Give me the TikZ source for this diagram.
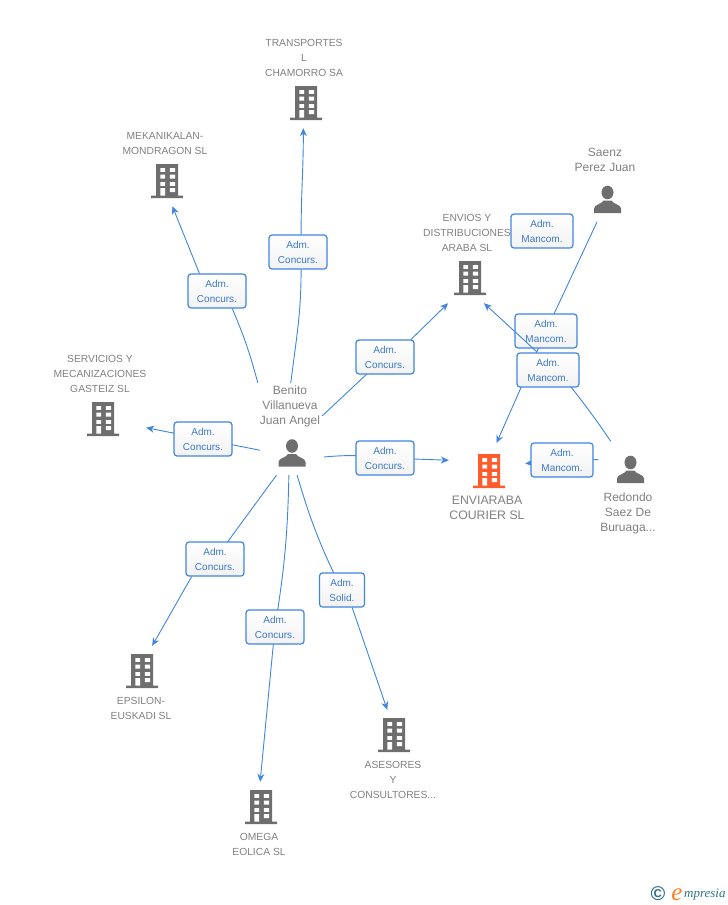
\documentclass[tikz,border=0pt]{standalone}
\usepackage{fontspec}
\setmainfont{Liberation Sans}
\newfontfamily\logofont{Liberation Serif}
\usetikzlibrary{arrows.meta,backgrounds}
\definecolor{linkblue}{HTML}{4085E0}
\definecolor{labgray}{HTML}{808080}
\definecolor{icongray}{HTML}{6E6E6E}
\definecolor{iconorange}{HTML}{FF5C2E}
\definecolor{logoteal}{HTML}{2F7488}
\definecolor{logoorange}{HTML}{F58220}
\tikzset{
  link/.style={draw=linkblue, line width=0.9pt},
  linkto/.style={link, -{Stealth[length=8pt,width=7pt]}},
  admbox/.style={draw=linkblue, line width=1.2pt, rounded corners=3pt, top color=white, bottom color=white!95!black,
    minimum width=58pt, minimum height=34pt, inner sep=0pt, align=center, text=linkblue!90!black,
    font=\fontsize{10}{15}\selectfont},
  mancbox/.style={admbox, minimum width=62pt},
  company/.style={text=labgray, align=center, inner sep=0pt, font=\fontsize{10.3}{15}\selectfont},
  personname/.style={text=labgray, align=center, inner sep=0pt, font=\fontsize{12}{15}\selectfont},
  bldcolor/.store in=\bldcolor, bldcolor=icongray,
  building/.style={minimum width=80pt, minimum height=50pt, inner sep=0pt, path picture={
    \fill[\bldcolor] (-11,-17) rectangle (11,14.5) (-16,14.5) rectangle (16,17);
    \foreach \wy in {-13,-6.3,1} {
      \fill[white] (-6.7,\wy) rectangle ++(4.7,3.8) (2.9,\wy) rectangle ++(5.1,3.8);
    }
    \fill[white] (-6.7,7) rectangle (-2,14.5) (2.9,7) rectangle (8,11);
  }},
  person/.style={minimum width=64pt, minimum height=44pt, inner sep=0pt, path picture={
    \fill[icongray] (0,-7) ellipse (6 and 6.8);
    \fill[icongray] (-13.5,13.5) -- (-13.5,9) .. controls (-13.5,5) and (-6,5) .. (-4,1) -- (4,1)
      .. controls (6,5) and (13.5,5) .. (13.5,9) -- (13.5,13.5) -- cycle;
  }}
}
\begin{document}
\begin{tikzpicture}[x=1pt, y=-1pt]
  \useasboundingbox (0, 0) rectangle (728, 905);

  \node[building] (transportes) at (306, 103) {};
  \node[building] (mekanikalan) at (167, 181) {};
  \node[building] (servicios) at (103, 419) {};
  \node[building] (envios) at (470, 278) {};
  \node[building, bldcolor=iconorange] (enviaraba) at (489, 471) {};
  \node[building] (epsilon) at (142, 671) {};
  \node[building] (omega) at (261, 807) {};
  \node[building] (asesores) at (394, 735) {};
  \node[person] (benito) at (292, 453) {};
  \node[person] (saenz) at (607.5, 199.5) {};
  \node[person, minimum height=56pt] (redondo) at (630.5, 469.5) {};

  \node[company] (transportesname) at (304, 58) {TRANSPORTES\\L\\CHAMORRO SA};
  \node[company] (mekanikalanname) at (165, 144) {MEKANIKALAN-\\MONDRAGON SL};
  \node[company] (serviciosname) at (100, 374) {SERVICIOS Y\\MECANIZACIONES\\GASTEIZ SL};
  \node[company] (enviosname) at (467, 233) {ENVIOS Y\\DISTRIBUCIONES\\ARABA SL};
  \node[company, font=\fontsize{12.3}{15}\selectfont] (enviarabaname) at (487, 508) {ENVIARABA\\COURIER SL};
  \node[company] (epsilonname) at (141, 708) {EPSILON-\\EUSKADI SL};
  \node[company] (omeganame) at (259, 844) {OMEGA\\EOLICA SL};
  \node[company] (asesoresname) at (393, 780) {ASESORES\\Y\\CONSULTORES...};
  \node[personname, minimum width=64pt, minimum height=46pt] (benitoname) at (290, 406) {Benito\\Villanueva\\Juan Angel};
  \node[personname] (saenzname) at (605, 160) {Saenz\\Perez Juan};
  \node[personname] (redondoname) at (628, 513) {Redondo\\Saez De\\Buruaga...};

  \node[admbox] (admtransportes) at (298, 252) {Adm.\\Concurs.};
  \node[admbox] (admmekanikalan) at (217, 291) {Adm.\\Concurs.};
  \node[admbox] (admservicios) at (203, 439) {Adm.\\Concurs.};
  \node[admbox] (admenvios) at (385, 357) {Adm.\\Concurs.};
  \node[admbox] (admenviaraba) at (385, 458) {Adm.\\Concurs.};
  \node[admbox] (admepsilon) at (215, 559) {Adm.\\Concurs.};
  \node[admbox] (admomega) at (275, 627) {Adm.\\Concurs.};
  \node[admbox, minimum width=45pt] (admasesores) at (342, 590) {Adm.\\Solid.};
  \node[mancbox] (manfree) at (542, 231) {Adm.\\Mancom.};
  \node[mancbox] (mansaenz) at (546, 331) {Adm.\\Mancom.};
  \node[mancbox] (manredondo) at (562, 460) {Adm.\\Mancom.};

  \begin{scope}[on background layer]
    \draw[link] (benitoname.88) to[out=83, in=-90] (admtransportes.-80);
    \draw[linkto] (admtransportes.80) to[out=90, in=-90] (transportes.-96);
    \draw[link] (benitoname.north west) to[bend right=4] (admmekanikalan.-49);
    \draw[linkto] (admmekanikalan.135) -- (mekanikalan.-78);
    \draw[link] (benito.175) -- (admservicios.center);
    \draw[linkto, shorten >=3pt] (admservicios.center) -- (servicios);
    \draw[link] (benitoname.-17) -- (admenvios.center);
    \draw[linkto] (admenvios.34) -- (envios.-131);
    \draw[link] (benito.-7) to[bend left=6] (admenviaraba.center);
    \draw[linkto] (admenviaraba.center) -- (enviaraba.165);
    \draw[link] (benito.-125) -- (admepsilon.center);
    \draw[linkto] (admepsilon.-143) -- (epsilon.68);
    \draw[link] (benito.-98) to[bend left=4] (admomega.center);
    \draw[linkto] (admomega.center) -- (omega.92);
    \draw[link] (benito.-77) to[bend right=5] (admasesores.center);
    \draw[linkto] (admasesores.-60) -- (asesores.105);
    \draw[link] (saenz) -- (mansaenz.center);
    \draw[linkto, shorten >=3pt] (mansaenz.center) -- (enviaraba.76);
    \draw[link] (redondo.163) -- (manredondo.center);
    \draw[linkto, shorten >=-4pt] (manredondo.center) -- (enviaraba.11);
  \end{scope}

  \coordinate (manenviosin) at (571, 387);
  \coordinate (manenviosout) at (537, 352);
  \coordinate (manenviosat) at (548, 370);
  \draw[link] (redondo.125) to[bend right=2] (manenviosin);
  \draw[linkto] (manenviosout) -- (envios.-61);
  \node[mancbox] (manenvios) at (manenviosat) {Adm.\\Mancom.};

  \node[text=logoteal, inner sep=0pt, font=\bfseries\fontsize{20}{20}\selectfont] (logocopy) at (658, 894) {©};
  \node[text=logoorange, inner sep=0pt, font=\logofont\itshape\fontsize{25}{25}\selectfont] (logoe) at (677, 895) {e};
  \node[text=logoteal, inner sep=0pt, anchor=west, font=\logofont\itshape\fontsize{13}{14}\selectfont] (logotext) at (684, 895) {mpresia};
\end{tikzpicture}
\end{document}
